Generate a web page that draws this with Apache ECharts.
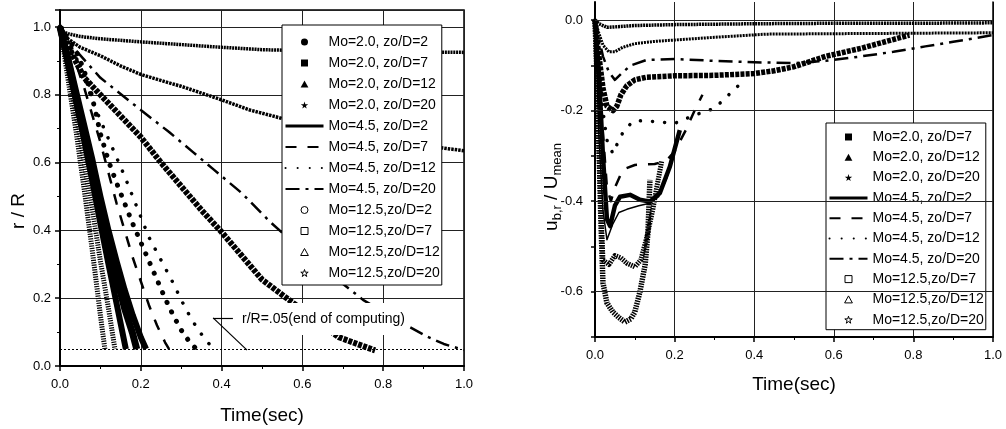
<!DOCTYPE html>
<html><head><meta charset="utf-8">
<script src="https://cdn.jsdelivr.net/npm/echarts@6/dist/echarts.min.js"></script>
<style>html,body{margin:0;padding:0;background:#fff}#c{width:1006px;height:429px}</style>
</head><body><div id="c"></div>
<script>
// ---- tick labels / reference levels ----
const X_TICKS = [0, 0.2, 0.4, 0.6, 0.8, 1.0];
const L_Y_TICKS = [0, 0.2, 0.4, 0.6, 0.8, 1.0];
const R_Y_TICKS = [0, -0.2, -0.4, -0.6];
const END_LEVEL = 0.05;
const NOTE_TEXT = 'r/R=.05(end of computing)';
const NOTE_ARROW = [[0.379, 0.142], [0.428, 0.142], [0.463, 0.047]];

// ---- series names ----
const NAMES = ['Mo=2.0, zo/D=2','Mo=2.0, zo/D=7','Mo=2.0, zo/D=12','Mo=2.0, zo/D=20',
  'Mo=4.5, zo/D=2','Mo=4.5, zo/D=7','Mo=4.5, zo/D=12','Mo=4.5, zo/D=20',
  'Mo=12.5,zo/D=2','Mo=12.5,zo/D=7','Mo=12.5,zo/D=12','Mo=12.5,zo/D=20'];

// ---- left panel: r/R vs time ----
const L_2_2  = [[0,1.0],[0.02,0.965],[0.04,0.93],[0.06,0.87],[0.08,0.79],[0.09,0.74],[0.1,0.685],[0.12,0.605],[0.14,0.54],[0.16,0.48],[0.18,0.42],[0.2,0.365],[0.22,0.31],[0.24,0.255],[0.26,0.2],[0.28,0.15],[0.3,0.106],[0.32,0.072],[0.34,0.047]];
const L_2_7  = [[0,1.0],[0.03,0.92],[0.06,0.85],[0.1,0.8],[0.16,0.725],[0.2,0.675],[0.25,0.6],[0.3,0.53],[0.35,0.46],[0.4,0.395],[0.45,0.325],[0.5,0.255],[0.55,0.21],[0.6,0.165],[0.65,0.12],[0.69,0.085],[0.74,0.063],[0.78,0.046]];
const L_2_12 = [[0,0.99],[0.02,0.965],[0.05,0.94],[0.1,0.915],[0.15,0.885],[0.2,0.86],[0.27,0.835],[0.3,0.825],[0.4,0.785],[0.47,0.755],[0.55,0.73],[0.6,0.715],[0.7,0.69],[0.8,0.67],[0.9,0.65],[1.0,0.635]];
const L_2_20 = [[0,0.99],[0.02,0.98],[0.05,0.972],[0.1,0.965],[0.2,0.956],[0.3,0.948],[0.4,0.94],[0.5,0.933],[0.6,0.93],[0.7,0.928],[0.8,0.927],[0.9,0.926],[1.0,0.925]];
const L_45_2 = [[0,1.0],[0.02,0.91],[0.04,0.81],[0.06,0.71],[0.08,0.61],[0.1,0.5],[0.12,0.4],[0.14,0.31],[0.16,0.225],[0.18,0.15],[0.2,0.085],[0.213,0.05]];
const L_45_7 = [[0,1.0],[0.02,0.95],[0.04,0.89],[0.06,0.82],[0.08,0.74],[0.1,0.66],[0.12,0.57],[0.14,0.48],[0.16,0.4],[0.18,0.32],[0.2,0.25],[0.22,0.18],[0.24,0.12],[0.26,0.07],[0.27,0.05]];
const L_45_12 = [[0,1.0],[0.02,0.96],[0.04,0.91],[0.06,0.85],[0.08,0.785],[0.1,0.725],[0.12,0.67],[0.14,0.615],[0.16,0.56],[0.18,0.5],[0.2,0.44],[0.22,0.38],[0.24,0.335],[0.26,0.29],[0.28,0.245],[0.3,0.195],[0.32,0.15],[0.34,0.11],[0.36,0.078],[0.38,0.05]];
const L_45_20 = [[0,1.0],[0.04,0.93],[0.1,0.85],[0.2,0.755],[0.27,0.69],[0.33,0.63],[0.38,0.58],[0.45,0.51],[0.52,0.425],[0.6,0.34],[0.67,0.27],[0.72,0.224],[0.75,0.195],[0.8,0.16],[0.85,0.125],[0.91,0.086],[0.95,0.065],[1.0,0.047]];
const L_125_2 = [[0,1.0],[0.02,0.845],[0.04,0.69],[0.06,0.52],[0.08,0.34],[0.1,0.15],[0.111,0.05]];
const L_125_7 = [[0,1.0],[0.02,0.87],[0.04,0.74],[0.06,0.6],[0.08,0.46],[0.1,0.31],[0.12,0.17],[0.136,0.05]];
const L_125_12 = [[0,1.0],[0.02,0.89],[0.04,0.78],[0.06,0.665],[0.08,0.545],[0.1,0.42],[0.12,0.3],[0.14,0.185],[0.163,0.05]];
const L_125_20 = [[0,1.0],[0.02,0.9],[0.04,0.79],[0.06,0.68],[0.08,0.57],[0.1,0.46],[0.12,0.36],[0.14,0.26],[0.16,0.17],[0.18,0.095],[0.19,0.05]];

// ---- right panel: u_b,r / U_mean vs time ----
const R_2_7  = [[0,0],[0.005,-0.04],[0.01,-0.08],[0.02,-0.15],[0.03,-0.19],[0.045,-0.2],[0.055,-0.19],[0.065,-0.165],[0.08,-0.145],[0.1,-0.132],[0.13,-0.126],[0.2,-0.123],[0.3,-0.122],[0.4,-0.118],[0.45,-0.112],[0.5,-0.103],[0.58,-0.08],[0.67,-0.062],[0.79,-0.033]];
const R_2_12 = [[0,0],[0.01,-0.03],[0.02,-0.055],[0.035,-0.07],[0.05,-0.07],[0.07,-0.06],[0.1,-0.052],[0.15,-0.047],[0.2,-0.044],[0.3,-0.038],[0.43,-0.031],[0.6,-0.03],[0.8,-0.029],[1.0,-0.028]];
const R_2_20 = [[0,0],[0.01,-0.008],[0.03,-0.016],[0.05,-0.015],[0.1,-0.012],[0.2,-0.01],[0.4,-0.008],[0.6,-0.007],[0.8,-0.007],[1.0,-0.006]];
const R_45_2 = [[0,0],[0.01,-0.12],[0.02,-0.3],[0.03,-0.44],[0.038,-0.455],[0.05,-0.41],[0.063,-0.39],[0.088,-0.386],[0.113,-0.397],[0.138,-0.401],[0.163,-0.382],[0.188,-0.324],[0.213,-0.243]];
const R_45_7 = [[0,0],[0.01,-0.1],[0.02,-0.25],[0.03,-0.37],[0.04,-0.4],[0.05,-0.37],[0.07,-0.33],[0.1,-0.32],[0.15,-0.318],[0.18,-0.31],[0.2,-0.29],[0.23,-0.24],[0.25,-0.2],[0.27,-0.165]];
const R_45_12 = [[0,0],[0.01,-0.1],[0.02,-0.2],[0.03,-0.265],[0.045,-0.295],[0.06,-0.265],[0.075,-0.24],[0.1,-0.222],[0.15,-0.224],[0.2,-0.228],[0.25,-0.21],[0.3,-0.195],[0.33,-0.17],[0.36,-0.145],[0.38,-0.13]];
const R_45_20 = [[0,0],[0.01,-0.04],[0.02,-0.08],[0.035,-0.115],[0.05,-0.132],[0.07,-0.115],[0.09,-0.1],[0.13,-0.088],[0.2,-0.086],[0.3,-0.09],[0.4,-0.093],[0.5,-0.095],[0.58,-0.09],[0.67,-0.08],[0.75,-0.07],[0.83,-0.058],[0.9,-0.048],[1.0,-0.033]];
const R_125_7 = [[0,0],[0.005,-0.12],[0.01,-0.28],[0.015,-0.45],[0.02,-0.58],[0.03,-0.625],[0.045,-0.645],[0.06,-0.657],[0.075,-0.667],[0.09,-0.66],[0.1,-0.645],[0.113,-0.6],[0.126,-0.54],[0.133,-0.47],[0.138,-0.353]];
const R_125_12 = [[0,0],[0.005,-0.12],[0.01,-0.28],[0.015,-0.42],[0.02,-0.53],[0.035,-0.54],[0.05,-0.52],[0.065,-0.525],[0.08,-0.537],[0.1,-0.545],[0.115,-0.53],[0.13,-0.48],[0.145,-0.42],[0.155,-0.37],[0.168,-0.31]];
const R_125_20 = [[0,0],[0.005,-0.12],[0.01,-0.26],[0.02,-0.42],[0.03,-0.485],[0.045,-0.45],[0.06,-0.425],[0.08,-0.418],[0.11,-0.41],[0.14,-0.404],[0.16,-0.39],[0.18,-0.35],[0.19,-0.32]];

// ---- styles ----
const FONT = '"Liberation Sans", Arial, Helvetica, sans-serif';
const STAR = 'path://M50,0 L61,35 L98,35 L68,57 L79,91 L50,70 L21,91 L32,57 L2,35 L39,35 Z';
const SQUARE = 'path://M0,0 L10,0 L10,10 L0,10 Z';
const TRI = 'path://M5,0 L10,9 L0,9 Z';
const DOT = 'path://M5,0 A5,5 0 1,1 4.99,0 Z';
const MARKER = {0:[DOT,true],1:[SQUARE,true],2:[TRI,true],3:[STAR,true],8:[DOT,false],9:[SQUARE,false],10:[TRI,false],11:[STAR,false]};
const LSTYLE = {
  0:{width:5,type:[0.1,10.5],cap:'round'},
  1:{width:6,type:[4,1.2]},
  2:{width:3.5,type:[2.5,1]},
  3:{width:3.5,type:[2,0.8]},
  4:{width:6},
  5:{width:2.5,type:[11,11]},
  6:{width:3.5,type:[0.1,12],cap:'round'},
  7:{width:2.5,type:[14,6,3,6]},
  8:{width:5,type:[1.2,1.2]},
  9:{width:5,type:[1.2,1.2]},
  10:{width:6},
  11:{width:7}
};
const RSTYLE = {
  1:{width:5.5,type:[4,1.2]},
  2:{width:3,type:[2,1]},
  3:{width:3.5,type:[2,0.8]},
  4:{width:4.5},
  9:{width:5.5,type:[1.5,1]},
  10:{width:5,type:[1.5,1]},
  11:{width:1.5}
};

function mkSeries(i, data, gi, style, extra) {
  return Object.assign({
    type:'line', name:NAMES[i], data:data, xAxisIndex:gi, yAxisIndex:gi,
    symbol:'none', smooth:false, silent:true, animation:false,
    color:'#000',
    lineStyle:Object.assign({color:'#000', join:'round'}, style)
  }, extra||{});
}
function legendItems(idx) {
  return idx.map(i => {
    if (MARKER[i]) {
      const [icon, filled] = MARKER[i];
      return {name:NAMES[i], icon:icon,
        itemStyle: filled ? {color:'#000', borderWidth:0, opacity:1} : {color:'#fff', borderColor:'#000', borderWidth:1, opacity:1}};
    }
    return {name:NAMES[i], itemStyle:{opacity:0}, lineStyle:{width: i===4 ? 3 : 2}};
  });
}

const leftData = [L_2_2,L_2_7,L_2_12,L_2_20,L_45_2,L_45_7,L_45_12,L_45_20,L_125_2,L_125_7,L_125_12,L_125_20];
const rightIdx = [1,2,3,4,5,6,7,9,10,11];
const rightData = [R_2_7,R_2_12,R_2_20,R_45_2,R_45_7,R_45_12,R_45_20,R_125_7,R_125_12,R_125_20];

const series = [];
leftData.forEach((d,i) => {
  const extra = {};
  if (i === 3) {
    extra.markLine = {silent:true, symbol:'none', animation:false, label:{show:false},
      data:[
        {yAxis:END_LEVEL, lineStyle:{type:[2,2], width:1, color:'#000'}},
        [{coord:NOTE_ARROW[0]},{coord:NOTE_ARROW[1]}],
        [{coord:NOTE_ARROW[0]},{coord:NOTE_ARROW[2]}]
      ],
      lineStyle:{type:'solid', width:1.2, color:'#000'}};
  }
  series.push(mkSeries(i, d, 0, LSTYLE[i], extra));
});
rightIdx.forEach((i,k) => {
  const extra = {};
  if (i === 3) {
    extra.markLine = {silent:true, symbol:'none', animation:false, label:{show:false},
      data: R_Y_TICKS.map(v => ({yAxis:v})),
      lineStyle:{type:'solid', width:1, color:'#222'}};
  }
  series.push(mkSeries(i, rightData[k], 1, RSTYLE[i] || LSTYLE[i], extra));
});

const axisLabelBase = {color:'#000', fontSize:13, fontFamily:FONT};
const isTick = (arr, v) => arr.some(t => Math.abs(t - v) < 1e-6);

const option = {
  backgroundColor:'#fff',
  animation:false,
  grid:[
    {left:60, top:10, width:404, height:356, show:true, borderColor:'#000', borderWidth:1.5, backgroundColor:'transparent', containLabel:false, outerBoundsMode:'none'},
    {left:595, top:2, width:398, height:335, show:false, containLabel:false, outerBoundsMode:'none'}
  ],
  xAxis:[
    {type:'value', gridIndex:0, min:0, max:1, interval:0.2,
      name:'Time(sec)', nameLocation:'middle', nameGap:40,
      nameTextStyle:{fontSize:19, fontFamily:FONT, color:'#000'},
      axisLine:{show:true, onZero:false, lineStyle:{color:'#000', width:2}},
      axisTick:{show:true, inside:false, length:5, lineStyle:{color:'#000', width:1.5}},
      minorTick:{show:true, splitNumber:2, length:3, lineStyle:{color:'#000', width:1}},
      axisLabel:Object.assign({margin:12, formatter:v => isTick(X_TICKS,v) ? v.toFixed(1) : ''}, axisLabelBase),
      splitLine:{show:true, lineStyle:{color:'#222', width:1}}},
    {type:'value', gridIndex:1, min:0, max:1, interval:0.2,
      name:'Time(sec)', nameLocation:'middle', nameGap:38,
      nameTextStyle:{fontSize:19, fontFamily:FONT, color:'#000'},
      axisLine:{show:true, onZero:false, lineStyle:{color:'#000', width:2}},
      axisTick:{show:true, inside:false, length:5, lineStyle:{color:'#000', width:1.5}},
      minorTick:{show:true, splitNumber:2, length:3, lineStyle:{color:'#000', width:1}},
      axisLabel:Object.assign({margin:12, formatter:v => isTick(X_TICKS,v) ? v.toFixed(1) : ''}, axisLabelBase),
      splitLine:{show:true, lineStyle:{color:'#222', width:1}}}
  ],
  yAxis:[
    {type:'value', gridIndex:0, min:0, max:1.05, interval:0.2,
      axisLine:{show:true, onZero:false, lineStyle:{color:'#000', width:2}},
      axisTick:{show:true, inside:false, length:5, lineStyle:{color:'#000', width:1.5}},
      minorTick:{show:true, splitNumber:2, length:3, lineStyle:{color:'#000', width:1}},
      axisLabel:Object.assign({margin:9, showMaxLabel:false, formatter:v => isTick(L_Y_TICKS,v) ? v.toFixed(1) : ''}, axisLabelBase),
      splitLine:{show:true, lineStyle:{color:'#222', width:1}}},
    {type:'value', gridIndex:1, min:-0.7, max:0.04, interval:0.1,
      axisLine:{show:true, onZero:false, lineStyle:{color:'#000', width:2}},
      axisTick:{show:true, inside:false, length:4, lineStyle:{color:'#000', width:1.5}},
      axisLabel:Object.assign({margin:12, showMaxLabel:false, formatter:v => isTick(R_Y_TICKS,v) ? v.toFixed(1) : ''}, axisLabelBase),
      splitLine:{show:false}},
    {type:'value', gridIndex:1, position:'right', min:-0.7, max:0.04, interval:0.1,
      axisLine:{show:true, onZero:false, lineStyle:{color:'#000', width:1.5}},
      axisTick:{show:false}, axisLabel:{show:false}, splitLine:{show:false}}
  ],
  legend:[
    {orient:'vertical', left:282, top:25, itemWidth:38, itemHeight:7, itemGap:7, symbolKeepAspect:true,
      padding:[10,2,5,2], borderColor:'#000', borderWidth:1, backgroundColor:'#fff',
      selectedMode:false, textStyle:{fontSize:14, fontFamily:FONT, color:'#000'},
      data:legendItems([0,1,2,3,4,5,6,7,8,9,10,11])},
    {orient:'vertical', left:826, top:123, itemWidth:38, itemHeight:7, itemGap:6.3, symbolKeepAspect:true,
      padding:[7,2,3,2], borderColor:'#000', borderWidth:1, backgroundColor:'#fff',
      selectedMode:false, textStyle:{fontSize:14, fontFamily:FONT, color:'#000'},
      data:legendItems(rightIdx)}
  ],
  graphic:[
    {type:'text', x:19, y:211, rotation:Math.PI/2, silent:true,
      style:{text:'r / R', fontSize:19, fontFamily:FONT, fill:'#000', align:'center', verticalAlign:'middle'}},
    {type:'text', x:552, y:187, rotation:Math.PI/2, silent:true,
      style:{text:'{m|u}{s|b,r}{m| / U}{s|mean}', fill:'#000', align:'center', verticalAlign:'middle',
        rich:{m:{fontSize:19, fontFamily:FONT, lineHeight:24, verticalAlign:'middle', fill:'#000'},
              s:{fontSize:13, fontFamily:FONT, lineHeight:13, verticalAlign:'bottom', fill:'#000'}}}},
    {type:'text', left:240, top:303, z:100, silent:true,
      style:{text:NOTE_TEXT, fontSize:14, fontFamily:FONT, fill:'#000', backgroundColor:'#fff', padding:[9,3,9,2]}}
  ],
  series:series
};
const chart = echarts.init(document.getElementById('c'), null, {renderer:'canvas'});
chart.setOption(option);
</script>
</body></html>
